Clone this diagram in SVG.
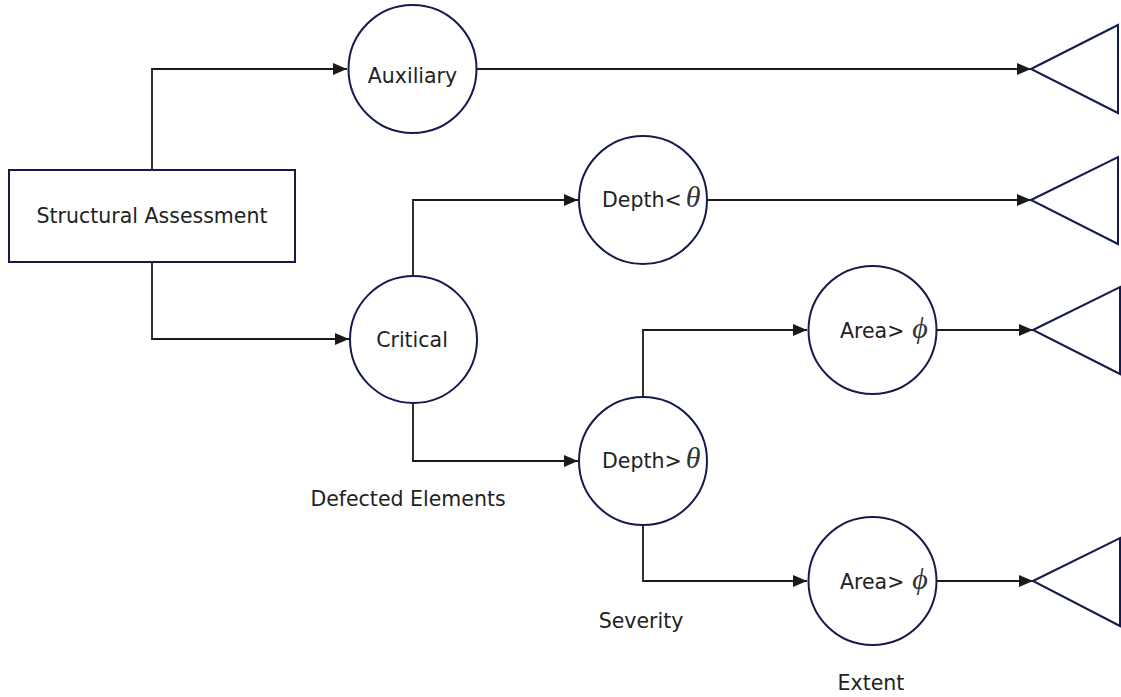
<svg xmlns="http://www.w3.org/2000/svg" width="1121" height="697" viewBox="0 0 1121 697">
  <style>
    .shape { fill: #ffffff; stroke: #141b4d; stroke-width: 2; }
    .term { fill: none; stroke: #141b4d; stroke-width: 2; stroke-linejoin: miter; }
    .wire { fill: none; stroke: #1a1a1a; stroke-width: 1.8; }
    .lbl { font-family: "DejaVu Sans", Verdana, sans-serif; font-size: 20.5px; fill: #222222; }
    .sym { font-family: "Liberation Serif", "Times New Roman", serif; font-style: italic; font-size: 30px; fill: #333333; }
  </style>
  <defs>
    <marker id="arrow" markerUnits="userSpaceOnUse" markerWidth="15" markerHeight="13" refX="14" refY="6" orient="auto">
      <path d="M0,0 L14,6 L0,12 Z" fill="#1a1a1a"/>
    </marker>
  </defs>
  <rect width="1121" height="697" fill="#ffffff"/>

  <!-- connectors -->
  <g id="connectors">
    <polyline class="wire" points="152,170 152,69 347,69" marker-end="url(#arrow)"/>
    <polyline class="wire" points="152,262 152,339 349,339" marker-end="url(#arrow)"/>
    <polyline class="wire" points="413,276 413,200 578,200" marker-end="url(#arrow)"/>
    <polyline class="wire" points="413,403 413,461 578,461" marker-end="url(#arrow)"/>
    <polyline class="wire" points="643,397 643,330 807,330" marker-end="url(#arrow)"/>
    <polyline class="wire" points="643,525 643,581 807,581" marker-end="url(#arrow)"/>
    <line class="wire" x1="477" y1="69" x2="1031" y2="69" marker-end="url(#arrow)"/>
    <line class="wire" x1="707" y1="200" x2="1031" y2="200" marker-end="url(#arrow)"/>
    <line class="wire" x1="937" y1="330" x2="1033" y2="330" marker-end="url(#arrow)"/>
    <line class="wire" x1="937" y1="581" x2="1033" y2="581" marker-end="url(#arrow)"/>
  </g>

  <!-- root box -->
  <g id="node-structural-assessment">
    <rect class="shape" x="9" y="170" width="286" height="92"/>
    <text class="lbl" x="152" y="223" text-anchor="middle">Structural Assessment</text>
  </g>

  <g id="node-auxiliary">
    <circle class="shape" cx="412.5" cy="69" r="64"/>
    <text class="lbl" x="412.5" y="83" text-anchor="middle">Auxiliary</text>
  </g>

  <g id="node-critical">
    <circle class="shape" cx="413.5" cy="339.5" r="63.5"/>
    <text class="lbl" x="412" y="347" text-anchor="middle">Critical</text>
  </g>

  <g id="node-depth-lt">
    <circle class="shape" cx="643" cy="200" r="64"/>
    <text class="lbl" x="602" y="207">Depth&lt;<tspan class="sym" dx="4">θ</tspan></text>
  </g>

  <g id="node-depth-gt">
    <circle class="shape" cx="643" cy="461" r="64"/>
    <text class="lbl" x="602" y="468">Depth&gt;<tspan class="sym" dx="4">θ</tspan></text>
  </g>

  <g id="node-area-upper">
    <circle class="shape" cx="872.5" cy="330" r="64"/>
    <text class="lbl" x="840" y="338">Area&gt;<tspan class="sym" dx="8">ϕ</tspan></text>
  </g>

  <g id="node-area-lower">
    <circle class="shape" cx="872.5" cy="581" r="64"/>
    <text class="lbl" x="840" y="589">Area&gt;<tspan class="sym" dx="8">ϕ</tspan></text>
  </g>

  <!-- terminals -->
  <g id="terminal-1"><polygon class="term" points="1031,69 1118,25 1118,113"/></g>
  <g id="terminal-2"><polygon class="term" points="1031,200 1118,157 1118,244"/></g>
  <g id="terminal-3"><polygon class="term" points="1033,330 1120,287 1120,374"/></g>
  <g id="terminal-4"><polygon class="term" points="1033,581 1120,538 1120,626"/></g>

  <!-- level labels -->
  <g id="labels">
    <text class="lbl" x="408" y="506" text-anchor="middle">Defected Elements</text>
    <text class="lbl" x="641" y="628" text-anchor="middle">Severity</text>
    <text class="lbl" x="871" y="690" text-anchor="middle">Extent</text>
  </g>
</svg>
